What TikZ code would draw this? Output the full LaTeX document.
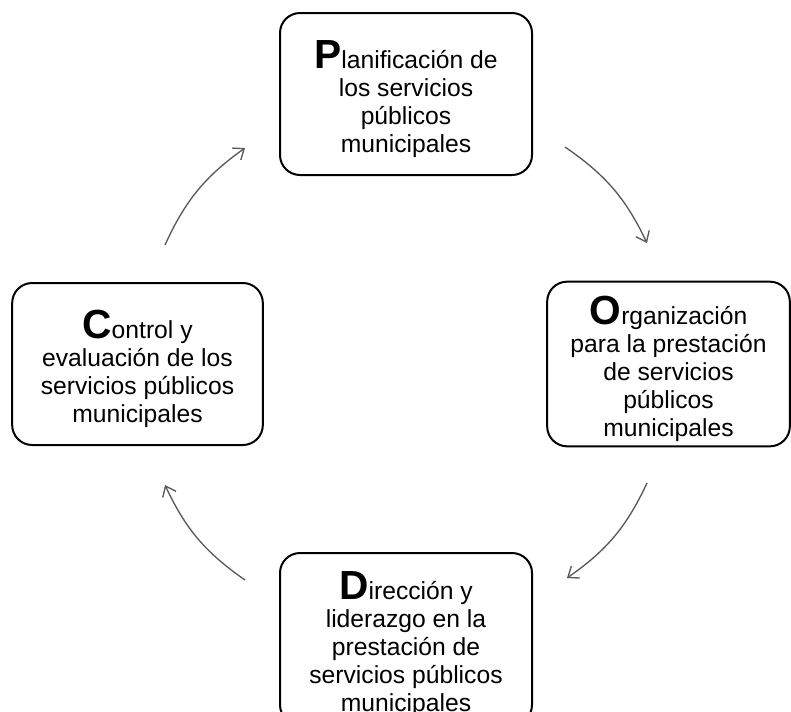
\documentclass[tikz,border=0pt]{standalone}
\usepackage{fontspec}
\setmainfont{Liberation Sans}
\usetikzlibrary{arrows.meta}
\newcommand{\Ini}[1]{\rule{0pt}{29pt}{\fontsize{30.5}{30.5}\selectfont\bfseries #1}}

\begin{document}
\begin{tikzpicture}[x=0.75pt,y=-0.75pt,
  etapa/.style={draw,line width=1.5pt,rounded corners=15pt,align=center,
    font=\fontsize{18.5}{21}\selectfont,minimum height=121.5pt},
  ciclo/.style={-{Straight Barb[length=7pt,width=11pt]},black!65,
    line width=1pt,bend left=15}]
  \useasboundingbox (0,0) rectangle (791,711);
  % las cuatro etapas
  \node[etapa,minimum width=189pt] (plan) at (406,94)
    {\Ini{P}lanificación de\\los servicios\\públicos\\municipales};
  \node[etapa,minimum width=182pt] (org) at (668.5,364)
    {\Ini{O}rganización\\para la prestación\\de servicios\\públicos\\municipales};
  \node[etapa,minimum width=189pt,minimum height=0pt,inner ysep=6pt,
    anchor=north] (dir) at (406,552)
    {\Ini{D}irección y\\liderazgo en la\\prestación de\\servicios públicos\\municipales};
  \node[etapa,minimum width=188pt] (ctrl) at (137.5,364)
    {\Ini{C}ontrol y\\evaluación de los\\servicios públicos\\municipales};
  % extremos libres de las flechas
  \coordinate (ctrl-out) at (165,245);
  \coordinate (plan-in) at (245,148);
  \coordinate (plan-out) at (565,147);
  \coordinate (org-in) at (647,243);
  \coordinate (org-out) at (647,483);
  \coordinate (dir-in) at (567,578);
  \coordinate (dir-out) at (245,580);
  \coordinate (ctrl-in) at (165,485);
  \draw[ciclo] (ctrl-out) to (plan-in);
  \draw[ciclo] (plan-out) to (org-in);
  \draw[ciclo] (org-out) to (dir-in);
  \draw[ciclo] (dir-out) to (ctrl-in);
\end{tikzpicture}
\end{document}
